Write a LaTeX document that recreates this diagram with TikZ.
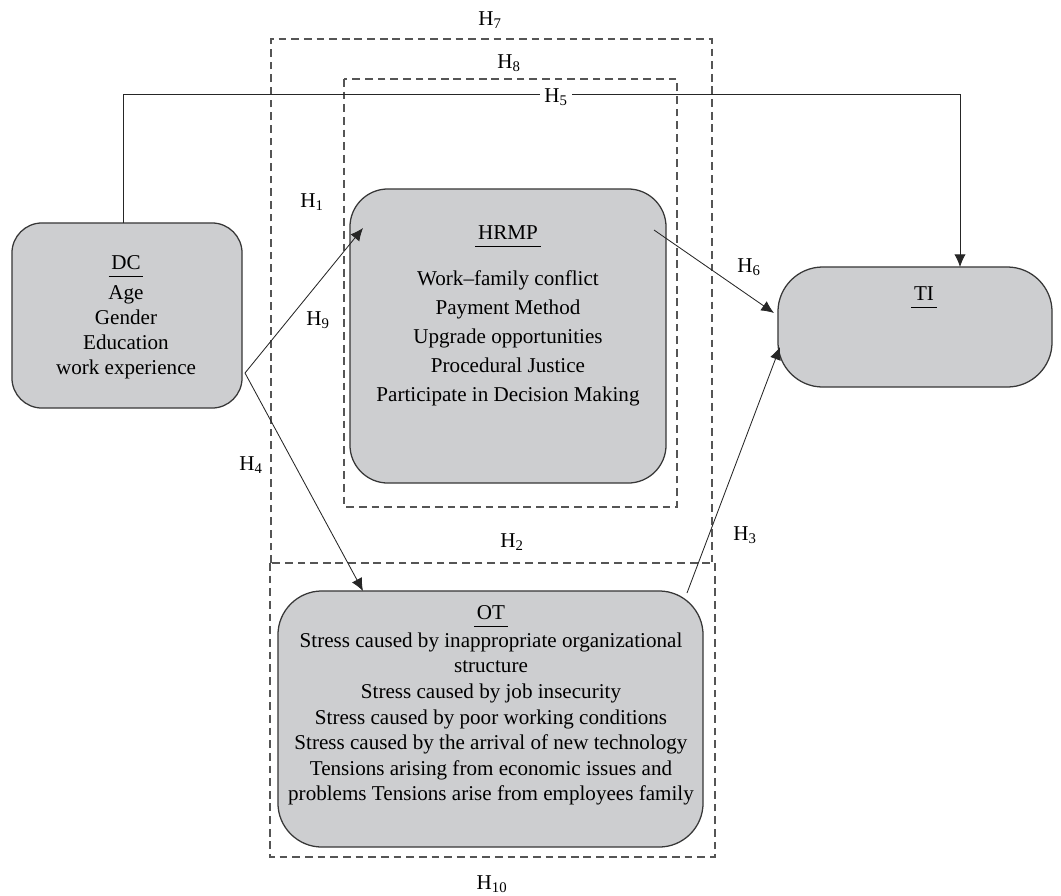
\documentclass[tikz,border=0pt]{standalone}
\usepackage{fontspec}
\setmainfont{Liberation Serif}
\usepackage{tikz}
\usetikzlibrary{arrows.meta,positioning,calc}

\definecolor{boxgray}{RGB}{205,206,208}
\definecolor{edgegray}{RGB}{55,55,55}
\definecolor{dashgray}{RGB}{85,85,85}

% heading with a rule set a bit under the word
\newcommand{\headul}[1]{\leavevmode\setbox0\hbox{#1}%
  \rlap{\kern-2pt\rule[-5.5pt]{\dimexpr\wd0+4pt\relax}{0.8pt}}\box0}

\begin{document}
\begin{tikzpicture}[x=0.025cm,y=-0.025cm,
    font=\fontsize{15}{18}\selectfont,
    block/.style={draw=edgegray,fill=boxgray,line width=0.9pt,inner sep=0pt},
    hyp/.style={draw=dashgray,line width=0.8pt,dash pattern=on 5.5pt off 3.5pt},
    link/.style={-{Latex[length=9pt,width=8pt]},line width=0.6pt,black!85},
    txt/.style={align=center,inner sep=0pt,anchor=north}]

  \useasboundingbox (0,0) rectangle (1061,896);

  % boxes
  \node[block,rounded corners=0.75cm,minimum width=5.75cm,minimum height=4.625cm] (DC) at (127,315.5) {};
  \node[block,rounded corners=0.95cm,minimum width=7.9cm,minimum height=7.35cm] (HRMP) at (508,336) {};
  \node[block,rounded corners=1.12cm,minimum width=6.85cm,minimum height=3cm] (TI) at (915,327) {};
  \node[block,rounded corners=1.1cm,minimum width=10.625cm,minimum height=6.4cm] (OT) at (490.5,719) {};

  % texts in the boxes
  \node[txt,font=\fontsize{15}{17.8}\selectfont] (DCtext) at (126,255)
    {\headul{DC}\\[3.5pt] Age\\ Gender\\ Education\\ work experience};
  \node[txt] (HRMPhead) at (508,225) {\headul{HRMP}};
  \node[txt,font=\fontsize{15}{20.6}\selectfont] (HRMPtext) at (508,270)
    {Work–family conflict\\ Payment Method\\ Upgrade opportunities\\ Procedural Justice\\ Participate in Decision Making};
  \node[txt] (TItext) at (924,286) {\headul{TI}};
  \node[txt,font=\fontsize{15}{18.2}\selectfont] (OTtext) at (491,605)
    {\headul{OT}\\[1.7pt] Stress caused by inappropriate organizational\\ structure\\
     Stress caused by job insecurity\\ Stress caused by poor working conditions\\
     Stress caused by the arrival of new technology\\ Tensions arising from economic issues and\\
     problems Tensions arise from employees family};

  % dashed frames
  \draw[hyp] (271,563) -- (271,39) -- (712,39) -- (712,563);
  \draw[hyp] (344,79) rectangle (677,507);
  \draw[hyp] (270,563) rectangle (715,857);

  % end points of the connectors
  \coordinate (fork) at (245,373);
  \coordinate (hrmpin) at (363,228);
  \coordinate (otin) at (363,591);
  \coordinate (hrmpout) at (654,230);
  \coordinate (tiin) at (774,313);
  \coordinate (otout) at (687,593);
  \coordinate (tiin2) at (780,347);
  \coordinate (dcup) at (123,223);
  \coordinate (bend) at (123,94);
  \coordinate (tidown) at (960,267);

  \draw[link] (fork) -- (hrmpin);
  \draw[link] (fork) -- (otin);
  \draw[link] (hrmpout) -- (tiin);
  \draw[link] (otout) -- (tiin2);
  \draw[link] (dcup) -- (bend) -| (tidown);

  % hypotheses
  \node[fill=white,inner sep=3pt] (H5) at (556,97) {H\textsubscript{5}};
  \node (H7) at (490,20) {H\textsubscript{7}};
  \node (H8) at (509,63) {H\textsubscript{8}};
  \node (H1) at (312,202) {H\textsubscript{1}};
  \node (H9) at (318,320) {H\textsubscript{9}};
  \node (H6) at (749,267) {H\textsubscript{6}};
  \node (H4) at (251,465) {H\textsubscript{4}};
  \node (H2) at (512,542) {H\textsubscript{2}};
  \node (H3) at (745,535) {H\textsubscript{3}};
  \node (H10) at (492,884) {H\textsubscript{10}};
\end{tikzpicture}
\end{document}
